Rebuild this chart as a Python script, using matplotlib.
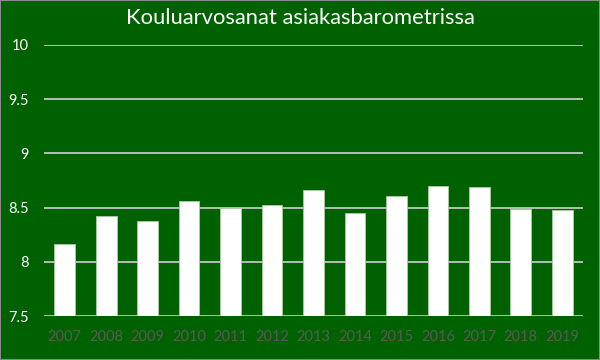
import matplotlib.pyplot as plt
import numpy as np

years = ['2007', '2008', '2009', '2010', '2011', '2012', '2013',
         '2014', '2015', '2016', '2017', '2018', '2019']
grades = [8.16, 8.42, 8.38, 8.56, 8.50, 8.52, 8.66,
          8.45, 8.61, 8.70, 8.69, 8.49, 8.48]
yticks = [7.5, 8, 8.5, 9, 9.5, 10]

bg = '#006100'
plt.rcParams['font.family'] = ['Lato', 'DejaVu Sans']

fig = plt.figure(figsize=(6, 3.6), dpi=100, facecolor=bg)
ax = fig.add_axes([44 / 600, 1 - 316 / 360, (583 - 44) / 600, (316 - 45) / 360])
ax.set_facecolor(bg)

x = np.arange(len(years))
ax.bar(x, grades, width=0.5, color='white', edgecolor='#a8cfa0', linewidth=0.6,
       zorder=3, bottom=0)

ax.set_ylim(7.5, 10)
ax.set_xlim(-0.5, len(years) - 0.5)
ax.set_yticks(yticks)
ax.set_yticklabels([f'{t:g}' for t in yticks])
ax.set_xticks(x)
ax.set_xticklabels(years)
ax.grid(axis='y', color='#d0d0d0', linewidth=1.2, zorder=1)
for s in ax.spines.values():
    s.set_visible(False)
ax.tick_params(axis='both', length=0)
ax.tick_params(axis='y', colors='white', labelsize=10.5, pad=11)
ax.tick_params(axis='x', colors='#5a5a5a', labelsize=10.5, pad=10)

fig.text(0.5, 1 - 18 / 360, 'Kouluarvosanat asiakasbarometrissa', color='white',
         fontsize=15.8, ha='center', va='center')

# thin grey frame round the chart
fig.patches.append(plt.Rectangle((0, 0), 1, 1, transform=fig.transFigure,
                                 fill=False, edgecolor='#8a8a8a', linewidth=1.5))

fig.savefig('out.png', dpi=100, facecolor=bg)
